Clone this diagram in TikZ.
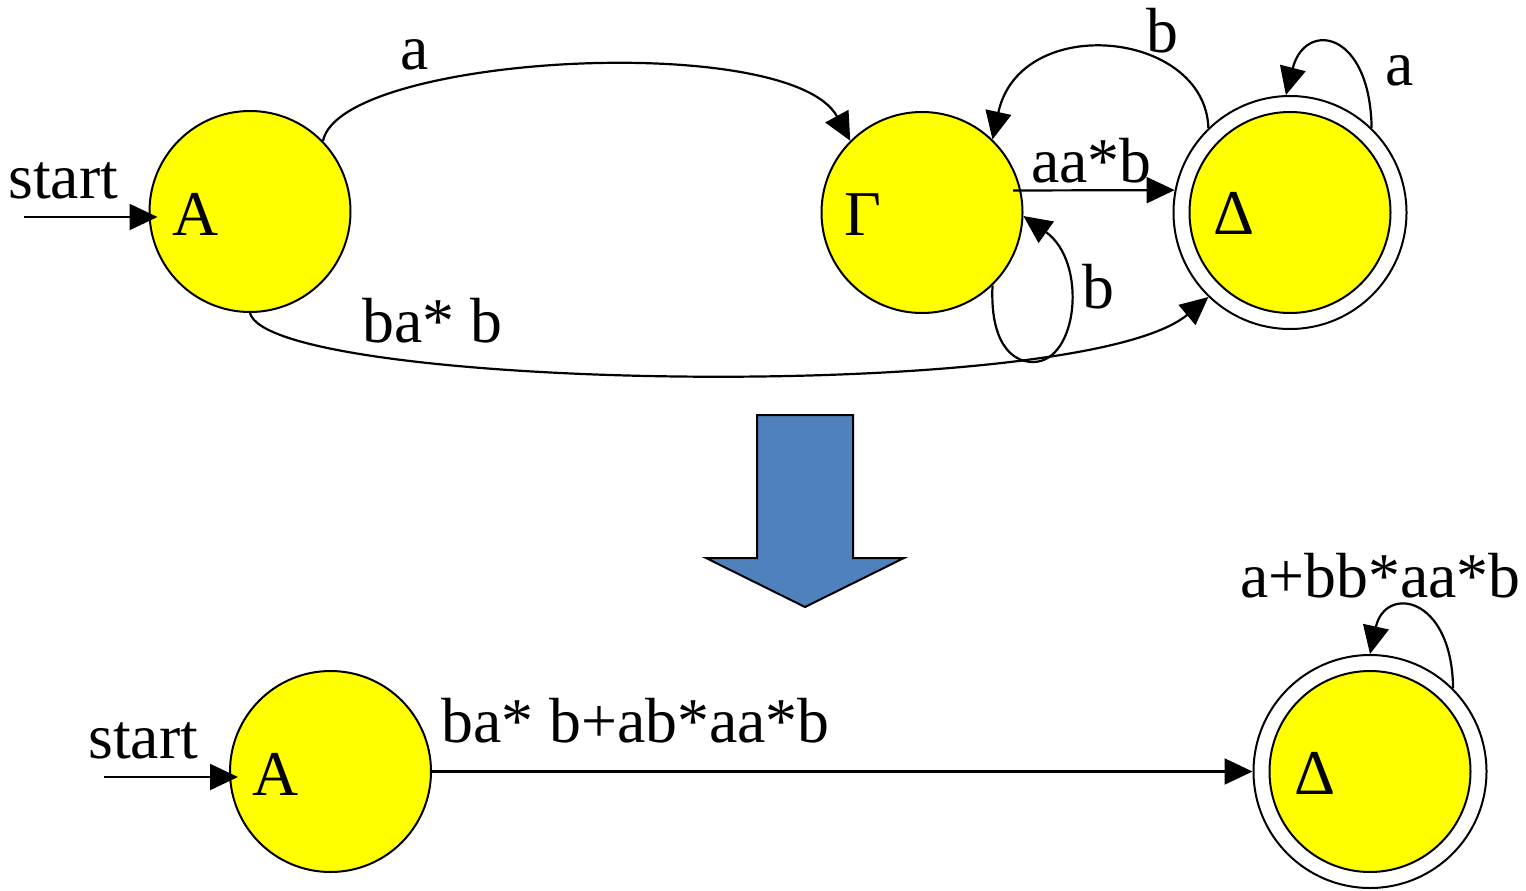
\documentclass[tikz,border=0pt]{standalone}
\usepackage{fontspec}
\setmainfont{Liberation Serif}
\usetikzlibrary{arrows.meta}
\definecolor{stateyellow}{RGB}{255,255,0}
\definecolor{arrowblue}{RGB}{79,129,189}
\begin{document}
\begin{tikzpicture}[x=1pt,y=-1pt,
  state/.style={circle,draw,line width=2pt,fill=stateyellow,minimum size=201pt,inner sep=0pt},
  accept/.style={circle,draw,line width=2pt,fill=white,minimum size=233pt,inner sep=0pt},
  lbl/.style={anchor=base west,inner sep=0pt,font=\fontsize{63.8}{70}\selectfont},
  arr/.style={line width=2.2pt,-{Triangle[length=28pt,width=26pt]}},
  blockarrow/.style={draw,line width=2pt,fill=arrowblue,line join=miter},
]
\useasboundingbox (0,0) rectangle (1526,891);

% ---- top automaton ----
\node[state] (A) at (250,211.5) {};
\node[state] (G) at (922,212.5) {};
\node[accept] (D) at (1290,212.5) {};
\node[state] (Di) at (1290,212.5) {};

\node[lbl] (lA) at (172,235) {A};
\node[lbl] (lG) at (844,235) {Γ};
\node[lbl] (lD) at (1213,234) {Δ};
\node[lbl] (lstart) at (8,198) {start};

\coordinate (s1) at (24,217);
\draw[arr] (s1) -- ([shift={(9,5.5)}]A.west);

\draw[arr] (A.44) .. controls (340,55) and (790,30) .. (G.135);
\node[lbl] (la) at (400,70) {a};

\draw[arr] (A.-90) .. controls (270,390) and (1080,405) .. (D.226);
\node[lbl] (lbab) at (362,342) {ba* b};

\draw[arr] ([shift={(91,-22)}]G.center) -- (D.169);
\node[lbl] (laab) at (1031,182) {aa*b};

\draw[arr] (D.134) .. controls (1205,30) and (1020,12) .. (G.46);
\node[lbl] (lb1) at (1146,53) {b};

\draw[arr] (G.-46) .. controls (990,340) and (1010,362) .. (1033,362)
  .. controls (1078,362) and (1088,262) .. (G.-2);
\node[lbl] (lb2) at (1082,308) {b};

\draw[arr] (D.46) .. controls (1370,30) and (1305,20) .. (D.92);
\node[lbl] (la2) at (1385,85) {a};

% ---- block arrow ----
\draw[blockarrow] (757,415) -- (853,415) -- (853,558) -- (904,558) -- (805,607)
  -- (706,558) -- (757,558) -- cycle;

% ---- bottom automaton ----
\node[state] (A2) at (330.5,771.5) {};
\node[accept] (D2) at (1370,771.5) {};
\node[state] (D2i) at (1370,771.5) {};

\node[lbl] (lA2) at (252,795) {A};
\node[lbl] (lD2) at (1294,794) {Δ};
\node[lbl] (lstart2) at (88,758) {start};

\coordinate (s2) at (104,777);
\draw[arr] (s2) -- ([shift={(9,5.5)}]A2.west);

\draw[arr] (A2.east) -- (D2.west);
\node[lbl] (lbig) at (441,742) {ba* b+ab*aa*b};

\draw[arr] (D2.45) .. controls (1452,595) and (1385,585) .. (D2.90);
\node[lbl] (lloop) at (1240,597) {a+bb*aa*b};
\end{tikzpicture}
\end{document}
